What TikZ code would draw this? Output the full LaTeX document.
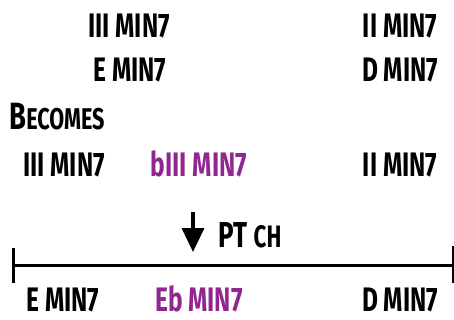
\documentclass[tikz,border=0pt]{standalone}
\usepackage{fontspec}
\usetikzlibrary{arrows.meta}
\newfontfamily\chordfont{Fira Sans}[UprightFont={* Bold}, FakeStretch=0.72]
\definecolor{flatpurple}{RGB}{145,38,145}
\newcommand{\smcap}[1]{{\fontsize{31}{31}\selectfont #1}}

\begin{document}
\begin{tikzpicture}[
  x=1pt, y=-1pt,
  chord/.style={font=\chordfont\fontsize{34}{34}\selectfont, inner sep=0pt, anchor=base},
  alt/.style={chord, text=flatpurple},
  bar/.style={line width=3pt},
  down/.style={-{Triangle[length=24pt, width=22pt]}, line width=3.5pt}
]
\useasboundingbox (0,0) rectangle (454,320);

% original progression
\node[chord] (iii) at (129,38) {III MIN7};
\node[chord] (ii) at (400,38) {II MIN7};
\node[chord] (emin) at (130,82) {E MIN7};
\node[chord] (dmin) at (400,82) {D MIN7};

\node[chord, font=\chordfont\fontsize{38}{38}\selectfont] (becomes) at (57,130) {B{\fontsize{30}{30}\selectfont ECOMES}};

% with the passing chord
\node[chord] (iiib) at (64,177) {III MIN7};
\node[alt] (flatiii) at (199,177) {bIII MIN7};
\node[chord] (iib) at (400,177) {II MIN7};

\coordinate (arrtop) at (193,212);
\coordinate (arrtip) at (193,252);
\draw[down] (arrtop) -- (arrtip);
\node[chord, font=\chordfont\fontsize{36}{36}\selectfont] (pt) at (250,247) {PT \smcap{CH}};

% time line
\coordinate (start) at (13,265);
\coordinate (end) at (453,265);
\draw[bar] (start) -- (end);
\draw[bar] (start) ++(0,-17) -- ++(0,35);
\draw[bar] (end) ++(0,-19) -- ++(0,37);

\node[chord] (e) at (63,311) {E MIN7};
\node[alt] (eflat) at (199,311) {Eb MIN7};
\node[chord] (d) at (400,311) {D MIN7};
\end{tikzpicture}
\end{document}
